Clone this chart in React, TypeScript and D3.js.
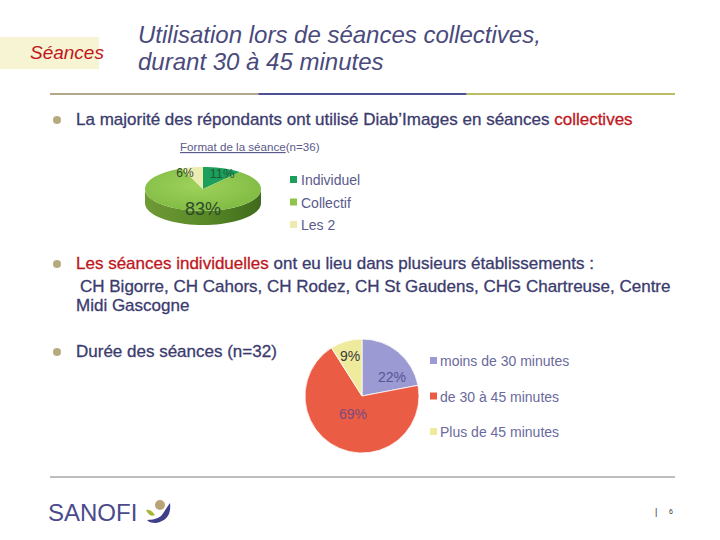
import { useMemo } from 'react';
import * as d3 from 'd3';

// data
const formatLabels = ['Individuel', 'Collectif', 'Les 2'];
const formatValues = [11, 83, 6];
const formatColors = ['#1d9f5c', '#8cc54a', '#ecebb0'];
const formatSides = ['#137a44', '#5f8f2c', '#c9c88a'];

const dureeLabels = ['moins de 30 minutes', 'de 30 à 45 minutes', 'Plus de 45 minutes'];
const dureeValues = [22, 69, 9];
const dureeColors = ['#9c9ad2', '#eb5c44', '#eeeb9c'];

const FONT = 'Liberation Sans, Arial, sans-serif';
const NAVY = '#3b3b6e';
const RED = '#c0161c';
const BODY = 17;

const W = 720,
  H = 540;

// 3D pie geometry
const P1 = { cx: 203, cy: 189, rx: 58, ry: 22, depth: 14 };

const ellipsePt = (a: number, dy = 0) => [
  P1.cx + P1.rx * Math.sin(a),
  P1.cy - P1.ry * Math.cos(a) + dy,
];

const arcPts = (a0: number, a1: number, dy = 0) => {
  const n = Math.max(2, Math.ceil(((a1 - a0) / (Math.PI * 2)) * 80));
  return d3.range(n + 1).map(i => ellipsePt(a0 + ((a1 - a0) * i) / n, dy));
};

const Pie3D = () => {
  const arcs = useMemo(
    () => d3.pie<number>().sort(null)(formatValues),
    []
  );

  const sides = arcs.map((a, i) => {
    const s = Math.max(a.startAngle, Math.PI / 2);
    const e = Math.min(a.endAngle, (Math.PI * 3) / 2);
    if (e <= s) return null;
    const top = arcPts(s, e);
    const bot = arcPts(s, e, P1.depth).reverse();
    const d = 'M' + [...top, ...bot].map(p => p.join(',')).join('L') + 'Z';
    return <path key={'s' + i} d={d} fill={i === 1 ? 'url(#sideGreen)' : formatSides[i]} />;
  });

  const tops = arcs.map((a, i) => {
    const pts = arcPts(a.startAngle, a.endAngle);
    const d =
      `M${P1.cx},${P1.cy}L` + pts.map(p => p.join(',')).join('L') + 'Z';
    return <path key={'t' + i} d={d} fill={i === 1 ? 'url(#topGreen)' : formatColors[i]} />;
  });

  const labelPos = [
    [222, 178, 13],
    [203, 215, 18],
    [185, 177, 12],
  ];

  return (
    <g>
      <defs>
        <linearGradient id="sideGreen" x1="0" x2="1" y1="0" y2="0">
          <stop offset="0" stopColor="#6f9a36" />
          <stop offset="0.5" stopColor="#5a8a28" />
          <stop offset="1" stopColor="#3f6a1c" />
        </linearGradient>
        <radialGradient id="topGreen" cx="0.45" cy="0.4" r="0.7">
          <stop offset="0" stopColor="#9ed25c" />
          <stop offset="1" stopColor="#7db840" />
        </radialGradient>
      </defs>
      {sides}
      {tops}
      {arcs.map((a, i) => (
        <text
          key={'l' + i}
          x={labelPos[i][0]}
          y={labelPos[i][1]}
          textAnchor="middle"
          fontSize={labelPos[i][2]}
          fontFamily={FONT}
          fill={i === 0 ? '#1e5a36' : '#2e4a2a'}
        >
          {formatValues[i]}%
        </text>
      ))}
      <text x={180} y={151} fontSize={11.6} fontFamily={FONT} fill="#5a5a8a">
        <tspan textDecoration="underline">Format de la séance</tspan>(n=36)
      </text>
      {formatLabels.map((l, i) => (
        <g key={l}>
          <rect x={290} y={176 + i * 22.5} width={7} height={7} fill={formatColors[i]} />
          <text x={301} y={185 + i * 22.5} fontSize={14} fontFamily={FONT} fill="#5a5a8c">
            {l}
          </text>
        </g>
      ))}
    </g>
  );
};

const Pie2D = () => {
  const cx = 362,
    cy = 396,
    r = 57;
  const arcs = d3.pie<number>().sort(null)(dureeValues);
  const arcGen = d3.arc<d3.PieArcDatum<number>>().innerRadius(0).outerRadius(r);
  const labelPos = [
    [392, 382],
    [353, 419],
    [350, 361],
  ];
  const labelColors = ['#55559a', '#7a4a80', '#3a3a3a'];
  return (
    <g>
      <g transform={`translate(${cx},${cy})`}>
        {arcs.map((a, i) => (
          <path key={i} d={arcGen(a) ?? ''} fill={dureeColors[i]} stroke="#fff" strokeWidth={0.8} />
        ))}
      </g>
      {arcs.map((a, i) => (
        <text
          key={'l' + i}
          x={labelPos[i][0]}
          y={labelPos[i][1]}
          textAnchor="middle"
          fontSize={14}
          fontFamily={FONT}
          fill={labelColors[i]}
        >
          {dureeValues[i]}%
        </text>
      ))}
      {dureeLabels.map((l, i) => (
        <g key={l}>
          <rect x={430} y={357 + i * 35.5} width={7} height={7} fill={dureeColors[i]} />
          <text x={440} y={366 + i * 35.5} fontSize={14} fontFamily={FONT} fill="#6a6a9c">
            {l}
          </text>
        </g>
      ))}
    </g>
  );
};

const Bullet = ({ y }: { y: number }) => <circle cx={57} cy={y - 5} r={4} fill="#b9aa7c" />;

const bodyText = {
  fontSize: BODY,
  fontFamily: FONT,
  fill: NAVY,
  stroke: NAVY,
  strokeWidth: 0.3,
};

export default function App() {
  const lineX = d3.scaleLinear().domain([0, 3]).range([50, 675]);
  const lineColors = ['#b5a78a', '#4b5193', '#bcbc62'];

  return (
    <svg
      width={W}
      height={H}
      style={{ position: 'absolute', left: 0, top: 0, background: '#fff' }}
    >
      {/* header */}
      <rect x={0} y={37} width={99} height={32} fill="#f6f4d2" />
      <text x={30} y={59} fontSize={19} fontStyle="italic" fontFamily={FONT} fill={RED}>
        Séances
      </text>
      <text x={138} y={43} fontSize={24} fontStyle="italic" fontFamily={FONT} fill="#4a4a7c">
        Utilisation lors de séances collectives,
      </text>
      <text x={138} y={70} fontSize={24} fontStyle="italic" fontFamily={FONT} fill="#4a4a7c">
        durant 30 à 45 minutes
      </text>
      {lineColors.map((c, i) => (
        <line key={c} x1={lineX(i)} x2={lineX(i + 1)} y1={94} y2={94} stroke={c} strokeWidth={2} />
      ))}

      {/* bullet 1 */}
      <Bullet y={125} />
      <text x={76} y={125} {...bodyText}>
        La majorité des répondants ont utilisé Diab’Images en séances{' '}
        <tspan fill={RED} stroke={RED}>collectives</tspan>
      </text>
      <Pie3D />

      {/* bullet 2 */}
      <Bullet y={269} />
      <text x={76} y={269} {...bodyText}>
        <tspan fill={RED} stroke={RED}>Les séances individuelles</tspan> ont eu lieu dans plusieurs établissements :
      </text>
      <text x={80} y={292} {...bodyText}>
        CH Bigorre, CH Cahors, CH Rodez, CH St Gaudens, CHG Chartreuse, Centre
      </text>
      <text x={76} y={311} {...bodyText}>
        Midi Gascogne
      </text>

      {/* bullet 3 */}
      <Bullet y={357} />
      <text x={76} y={357} {...bodyText}>
        Durée des séances (n=32)
      </text>
      <Pie2D />

      {/* footer */}
      <line x1={50} x2={675} y1={477} y2={477} stroke="#a8a8a8" strokeWidth={1.5} />
      <text x={48} y={521} fontSize={24} fontFamily={FONT} fill="#4a4a8c">
        SANOFI
      </text>
      <circle cx={160} cy={505} r={5} fill="#b9a47a" />
      <path d="M146,510 Q151,509 155,515 Q150,518 146,510 Z" fill="#a8b832" />
      <path d="M170,503 Q172,520 156,523 Q149,523 147,520 Q160,520 164,512 Q167,507 170,503 Z" fill="#3f3f8a" />
      <text x={655} y={515} fontSize={9} fontFamily={FONT} fill="#333">
        |
      </text>
      <text x={669} y={514} fontSize={7} fontFamily={FONT} fill="#333">
        6
      </text>
    </svg>
  );
}
